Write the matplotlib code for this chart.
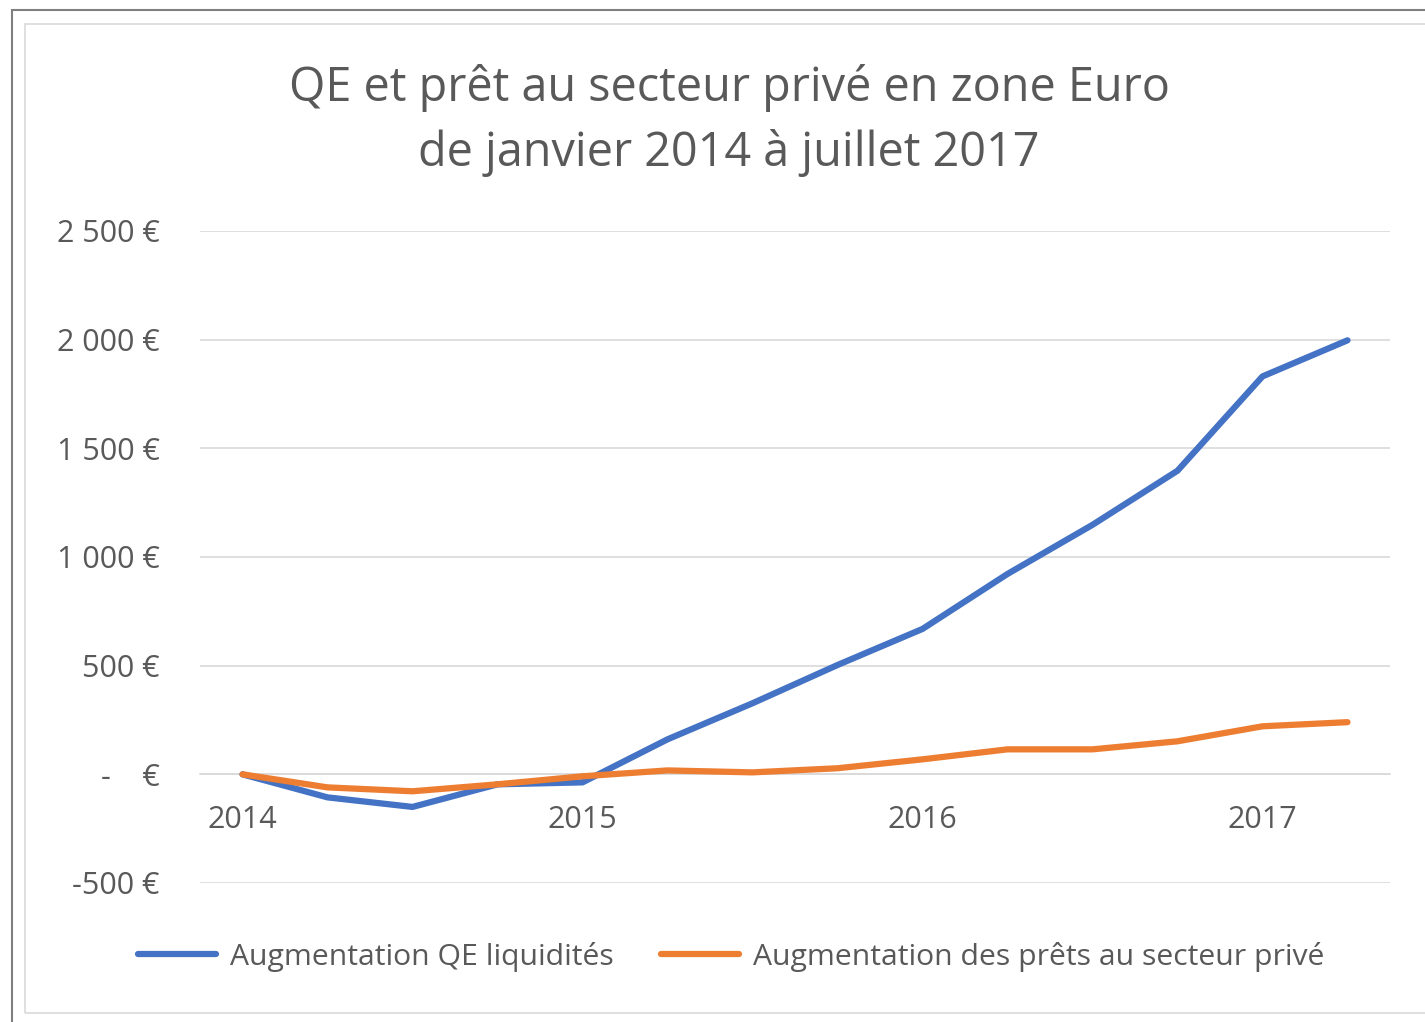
#!/usr/bin/env python3
# QE et pret au secteur prive en zone Euro - line chart
import numpy as np
import matplotlib
matplotlib.use("Agg")
from matplotlib import pyplot as plt
from matplotlib.patches import Rectangle

##################---------Data---------############################
quarters = ["2014", "", "", "", "2015", "", "", "", "2016", "", "", "", "2017", ""]
qe_liquidites = [0, -106, -150, -46, -37, 161, 327, 503, 669, 922, 1148, 1397, 1831, 1997]
prets_prives = [0, -60, -78, -46, -9, 18, 9, 28, 69, 115, 115, 152, 221, 240]
y_ticks = [-500, 0, 500, 1000, 1500, 2000, 2500]
y_labels = ["-500 €", "-    €", "500 €", "1 000 €", "1 500 €", "2 000 €", "2 500 €"]
series_names = ["Augmentation QE liquidités", "Augmentation des prêts au secteur privé"]

TXT = "#595959"
W, H = 1425, 1022

plt.rcParams['font.family'] = ['Open Sans', 'DejaVu Sans']

fig = plt.figure(figsize=(W / 100, H / 100), dpi=100)
fig.patch.set_facecolor("white")

# frames (outer dark, inner light)
fig.add_artist(Rectangle((12 / W, -0.1), 2.0, 1 - 10 / H + 0.1, transform=fig.transFigure,
                         fill=False, edgecolor="#7f7f7f", linewidth=1.5))
fig.add_artist(Rectangle((25 / W, 1 - 1013 / H), 2.0, (1013 - 24) / H, transform=fig.transFigure,
                         fill=False, edgecolor="#d9d9d9", linewidth=1.2))

ax = fig.add_axes([200 / W, 1 - 883 / H, 1190 / W, (883 - 231) / H])
x = np.arange(len(quarters))
ax.plot(x, qe_liquidites, color="#4472C4", linewidth=4.5, solid_capstyle="round",
        solid_joinstyle="round", label=series_names[0], zorder=3)
ax.plot(x, prets_prives, color="#ED7D31", linewidth=4.5, solid_capstyle="round",
        solid_joinstyle="round", label=series_names[1], zorder=4)

ax.set_xlim(-0.5, len(quarters) - 0.5)
ax.set_ylim(-500, 2500)
ax.set_yticks(y_ticks)
ax.set_yticklabels(y_labels)
ax.set_xticks(x)
ax.set_xticklabels(quarters)
ax.grid(axis="y", color="#d9d9d9", linewidth=1.2)
ax.set_axisbelow(True)
for s in ["top", "right", "left"]:
    ax.spines[s].set_visible(False)
ax.spines["bottom"].set_position(("data", 0))
ax.spines["bottom"].set_color("#d9d9d9")
ax.spines["bottom"].set_linewidth(1.2)
ax.tick_params(axis="y", length=0, pad=29, labelsize=22, labelcolor=TXT)
ax.tick_params(axis="x", length=0, pad=22, labelsize=22, labelcolor=TXT)

fig.text(729 / W, 1 - 88 / H, "QE et prêt au secteur privé en zone Euro",
         ha="center", va="center", fontsize=33.7, color=TXT)
fig.text(729 / W, 1 - 153 / H, "de janvier 2014 à juillet 2017",
         ha="center", va="center", fontsize=33.7, color=TXT)

fig.legend(loc="center", bbox_to_anchor=(731 / W, 1 - 957 / H), ncol=2, frameon=False,
           fontsize=21.7, labelcolor=TXT, handlelength=2.6, handletextpad=0.46,
           columnspacing=1.56)

fig.savefig("out.png", dpi=100)
